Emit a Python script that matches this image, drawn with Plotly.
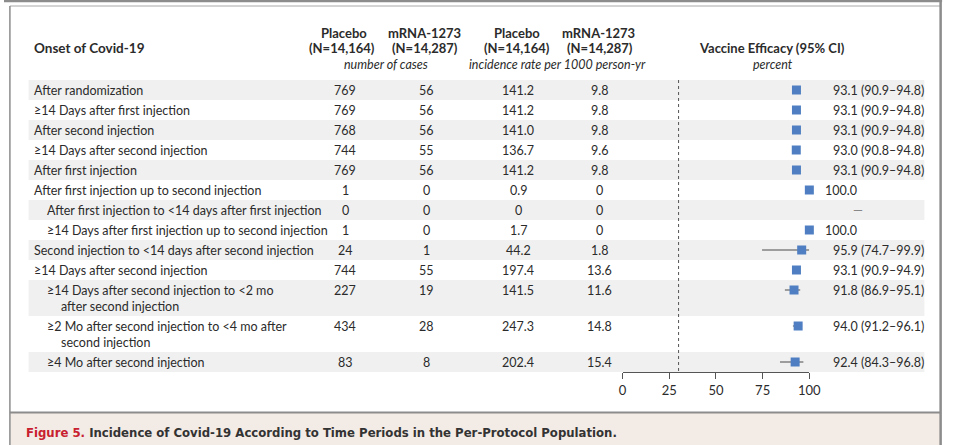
import plotly.graph_objects as go

W, H = 960, 445

# ---------------- data ----------------
labels = [
    "After randomization",
    "≥14 Days after first injection",
    "After second injection",
    "≥14 Days after second injection",
    "After first injection",
    "After first injection up to second injection",
    "After first injection to <14 days after first injection",
    "≥14 Days after first injection up to second injection",
    "Second injection to <14 days after second injection",
    "≥14 Days after second injection",
    "≥14 Days after second injection to <2 mo|after second injection",
    "≥2 Mo after second injection to <4 mo after|second injection",
    "≥4 Mo after second injection",
]
indent = [0, 0, 0, 0, 0, 0, 1, 1, 0, 0, 1, 1, 1]
placebo_cases = ["769", "769", "768", "744", "769", "1", "0", "1", "24", "744", "227", "434", "83"]
mrna_cases = ["56", "56", "56", "55", "56", "0", "0", "0", "1", "55", "19", "28", "8"]
placebo_rate = ["141.2", "141.2", "141.0", "136.7", "141.2", "0.9", "0", "1.7", "44.2", "197.4", "141.5", "247.3", "202.4"]
mrna_rate = ["9.8", "9.8", "9.8", "9.6", "9.8", "0", "0", "0", "1.8", "13.6", "11.6", "14.8", "15.4"]
ve = [93.1, 93.1, 93.1, 93.0, 93.1, 100.0, None, 100.0, 95.9, 93.1, 91.8, 94.0, 92.4]
ci_lo = [90.9, 90.9, 90.9, 90.8, 90.9, None, None, None, 74.7, 90.9, 86.9, 91.2, 84.3]
ci_hi = [94.8, 94.8, 94.8, 94.8, 94.8, None, None, None, 99.9, 94.9, 95.1, 96.1, 96.8]
ve_text = ["93.1 (90.9–94.8)", "93.1 (90.9–94.8)", "93.1 (90.9–94.8)", "93.0 (90.8–94.8)",
           "93.1 (90.9–94.8)", "100.0", "—", "100.0", "95.9 (74.7–99.9)", "93.1 (90.9–94.9)",
           "91.8 (86.9–95.1)", "94.0 (91.2–96.1)", "92.4 (84.3–96.8)"]
efficacy_ticks = [0, 25, 50, 75, 100]
success_threshold = 30

# ---------------- styling ----------------
FONT = "Lato, 'Noto Sans', sans-serif"
CAP_FONT = "'Liberation Sans Narrow', 'DejaVu Sans Condensed', sans-serif"
TXT = "#2b2b2b"
BAND = "#F0F0F0"
BLUE = "#4F7FC2"
FS = 12.5
HB = 13

# row geometry (pixel units on a y axis spanning the figure)
TABLE_TOP = 80
SINGLE, DOUBLE = 20, 36
row_top, row_ctr = [], []
t = TABLE_TOP
for lab in labels:
    h = DOUBLE if "|" in lab else SINGLE
    row_top.append(t)
    row_ctr.append(t + 10)
    t += h
TABLE_BOTTOM = t

def px(x):
    return x / W

def py(y):
    return 1 - y / H

fig = go.Figure()

# CI lines
cx, cy = [], []
for lo, hi, yc in zip(ci_lo, ci_hi, row_ctr):
    if lo is not None:
        cx += [lo, hi, None]
        cy += [yc, yc, None]
fig.add_trace(go.Scatter(x=cx, y=cy, mode="lines", line=dict(color="#4a4a4a", width=1),
                         hoverinfo="skip", cliponaxis=False, showlegend=False))
# point estimates
fig.add_trace(go.Scatter(
    x=[v for v in ve if v is not None],
    y=[yc for v, yc in zip(ve, row_ctr) if v is not None],
    mode="markers", marker=dict(symbol="square", size=9, color=BLUE, line=dict(width=0)),
    cliponaxis=False, showlegend=False, hoverinfo="x"))

shapes = []
annotations = []

# row bands
for i, (top, lab) in enumerate(zip(row_top, labels)):
    if i % 2 == 0:
        h = DOUBLE if "|" in lab else SINGLE
        shapes.append(dict(type="rect", xref="paper", yref="y", x0=px(25), x1=px(936),
                           y0=top, y1=top + h, fillcolor=BAND, line=dict(width=0), layer="below"))

# dashed threshold line
shapes.append(dict(type="line", xref="x", yref="y", x0=success_threshold, x1=success_threshold,
                   y0=TABLE_TOP, y1=TABLE_BOTTOM, line=dict(color="#555", width=1, dash="3px,3px")))

# frame
G = "#8c8c8c"
shapes += [
    dict(type="line", xref="paper", yref="paper", x0=0, x1=px(954), y0=py(1), y1=py(1),
         line=dict(color=G, width=2.5)),
    dict(type="line", xref="paper", yref="paper", x0=px(6), x1=px(952), y0=py(6), y1=py(6),
         line=dict(color="#a8a8a8", width=1)),
    dict(type="line", xref="paper", yref="paper", x0=px(6), x1=px(6), y0=py(6), y1=0,
         line=dict(color=G, width=1.5)),
    dict(type="rect", xref="paper", yref="paper", x0=px(6), x1=px(952), y0=0, y1=py(413),
         fillcolor="#F3EBE6", line=dict(width=0), layer="below"),
    dict(type="line", xref="paper", yref="paper", x0=px(6), x1=px(952), y0=py(412.5), y1=py(412.5),
         line=dict(color=G, width=2)),
    dict(type="line", xref="paper", yref="paper", x0=px(952.5), x1=px(952.5), y0=py(0), y1=0,
         line=dict(color=G, width=2.5)),
]

def ann(x, y, text, anchor="center", size=FS, bold=False, italic=False, color=TXT, yref="y", font=FONT):
    annotations.append(dict(
        x=px(x), y=y, xref="paper", yref=yref, text=text, showarrow=False,
        xanchor=anchor, yanchor="middle",
        font=dict(family=font, size=size, color=color,
                  weight="bold" if bold else "normal",
                  style="italic" if italic else "normal")))

# headers
ann(28, 48, "Onset of Covid-19", "left", HB + 0.5, bold=True)
ann(346, 33, "Placebo", size=HB, bold=True)
ann(344, 48, "(N=14,164)", size=HB, bold=True)
ann(428, 33, "mRNA-1273", size=HB, bold=True)
ann(428, 48, "(N=14,287)", size=HB, bold=True)
ann(388, 64, "number of cases", size=FS, italic=True)
ann(522, 33, "Placebo", size=HB, bold=True)
ann(522, 48, "(N=14,164)", size=HB, bold=True)
ann(605, 33, "mRNA-1273", size=HB, bold=True)
ann(606, 48, "(N=14,287)", size=HB, bold=True)
ann(563, 64, "incidence rate per 1000 person-yr", size=FS, italic=True)
ann(781, 48, "Vaccine Efficacy (95% CI)", size=HB, bold=True)
ann(782, 64, "percent", size=FS, italic=True)

# table body
for i, lab in enumerate(labels):
    yc = row_ctr[i]
    x0 = 28 + 14 * indent[i]
    parts = lab.split("|")
    ann(x0, yc, parts[0], "left")
    if len(parts) > 1:
        ann(x0 + 14, yc + 16, parts[1], "left")
    ann(347, yc, placebo_cases[i])
    ann(430, yc, mrna_cases[i])
    ann(523, yc, placebo_rate[i])
    ann(606, yc, mrna_rate[i])
    txt = ve_text[i]
    if txt == "—":
        ann(868, yc, txt, "center", color="#888")
    elif txt.startswith("100"):
        ann(833, yc, txt, "left")
    else:
        ann(841, yc, txt, "left")

# caption
annotations.append(dict(
    x=px(20), y=432, xref="paper", yref="y", xanchor="left", yanchor="middle", showarrow=False,
    text="<span style='color:#C8202F'>Figure 5.</span> Incidence of Covid-19 According to Time Periods in the Per-Protocol Population.",
    font=dict(family=CAP_FONT, size=13, color="#333333", weight="bold")))

fig.update_layout(
    width=W, height=H, margin=dict(l=0, r=0, t=0, b=0),
    paper_bgcolor="white", plot_bgcolor="rgba(0,0,0,0)",
    shapes=shapes, annotations=annotations, showlegend=False,
    xaxis=dict(domain=[px(629), px(819)], range=[0, 100], anchor="free", position=py(372),
               tickvals=efficacy_ticks, showline=True, linecolor="#555", linewidth=1,
               ticks="outside", ticklen=6, tickcolor="#555", showgrid=False, zeroline=False,
               tickfont=dict(family=FONT, size=13, color=TXT), fixedrange=True),
    yaxis=dict(domain=[0, 1], range=[H, 0], visible=False, fixedrange=True),
)

css = ("html,body{margin:0;padding:0;overflow:hidden;width:960px;height:445px;}"
       ".plotly-graph-div{display:block;}")
fig.write_html("out.html", config={"displayModeBar": False},
               post_script=("var s=document.createElement('style');s.innerHTML='" + css +
                            "';document.head.appendChild(s);"))
